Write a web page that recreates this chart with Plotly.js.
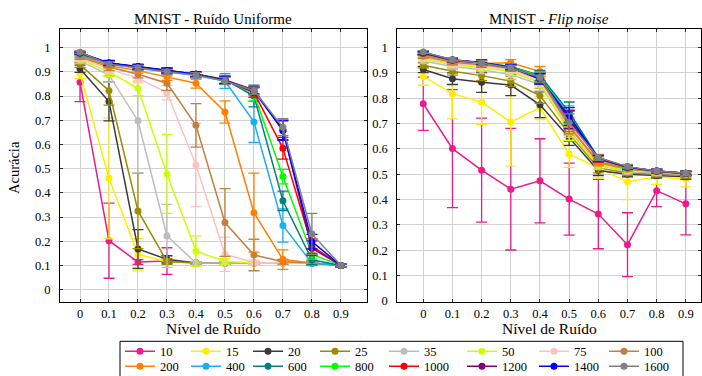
<!DOCTYPE html>
<html><head><meta charset="utf-8">
<script src="https://cdn.plot.ly/plotly-3.0.1.min.js"></script>
<style>html,body{margin:0;padding:0;background:#fff}#chart{width:702px;height:376px}</style>
</head><body><div id="chart"></div>
<script>
// ---------------- data ----------------
const noiseLevels = [0, 0.1, 0.2, 0.3, 0.4, 0.5, 0.6, 0.7, 0.8, 0.9];
const noiseTickLabels = ['0', '0.1', '0.2', '0.3', '0.4', '0.5', '0.6', '0.7', '0.8', '0.9'];
const accTicks = [0, 0.1, 0.2, 0.3, 0.4, 0.5, 0.6, 0.7, 0.8, 0.9, 1];
const accTickLabels = ['0', '0.1', '0.2', '0.3', '0.4', '0.5', '0.6', '0.7', '0.8', '0.9', '1'];
const sampleSizes = ['10', '15', '20', '25', '35', '50', '75', '100', '200', '400', '600', '800', '1000', '1200', '1400', '1600'];
const seriesColors = ['#ec1b8c', '#ffee00', '#3a3a3a', '#9c8c00', '#bdbdbd', '#ccff00', '#ffc0c0', '#bf8040',
                      '#ff8000', '#1ab0f0', '#008080', '#00ff00', '#ff0000', '#800080', '#0000ff', '#808080'];

// MNIST - uniform noise: mean accuracy per sample size (rows follow sampleSizes)
const uniformMeans = [
  [0.857, 0.202, 0.114, 0.118, 0.110, 0.110, 0.110, 0.110, 0.110, 0.100],
  [0.894, 0.460, 0.146, 0.115, 0.110, 0.110, 0.110, 0.110, 0.110, 0.100],
  [0.913, 0.777, 0.168, 0.125, 0.110, 0.110, 0.110, 0.110, 0.110, 0.100],
  [0.930, 0.822, 0.325, 0.116, 0.110, 0.110, 0.110, 0.110, 0.110, 0.100],
  [0.945, 0.887, 0.698, 0.222, 0.110, 0.110, 0.110, 0.110, 0.110, 0.100],
  [0.952, 0.900, 0.832, 0.478, 0.159, 0.116, 0.110, 0.110, 0.110, 0.100],
  [0.958, 0.910, 0.874, 0.814, 0.515, 0.146, 0.112, 0.110, 0.110, 0.100],
  [0.962, 0.920, 0.890, 0.853, 0.679, 0.277, 0.143, 0.115, 0.110, 0.100],
  [0.967, 0.925, 0.905, 0.880, 0.853, 0.734, 0.318, 0.124, 0.110, 0.100],
  [0.970, 0.932, 0.915, 0.900, 0.885, 0.862, 0.693, 0.265, 0.109, 0.100],
  [0.975, 0.935, 0.920, 0.905, 0.890, 0.868, 0.800, 0.367, 0.123, 0.100],
  [0.975, 0.935, 0.920, 0.905, 0.890, 0.868, 0.810, 0.467, 0.146, 0.100],
  [0.977, 0.935, 0.920, 0.905, 0.890, 0.866, 0.815, 0.584, 0.180, 0.100],
  [0.978, 0.936, 0.920, 0.905, 0.890, 0.866, 0.825, 0.660, 0.171, 0.100],
  [0.979, 0.937, 0.922, 0.905, 0.890, 0.864, 0.820, 0.657, 0.198, 0.100],
  [0.981, 0.931, 0.917, 0.900, 0.887, 0.862, 0.822, 0.671, 0.230, 0.100]
];
const uniformErrors = [
  [0.080, 0.155, 0.010, 0.055, 0.005, 0.005, 0.005, 0.005, 0.005, 0.005],
  [0.022, 0.250, 0.065, 0.010, 0.005, 0.005, 0.005, 0.005, 0.005, 0.005],
  [0.015, 0.080, 0.080, 0.015, 0.005, 0.005, 0.005, 0.005, 0.005, 0.005],
  [0.012, 0.060, 0.156, 0.012, 0.005, 0.005, 0.005, 0.005, 0.005, 0.005],
  [0.010, 0.030, 0.215, 0.130, 0.005, 0.005, 0.005, 0.005, 0.005, 0.005],
  [0.010, 0.020, 0.030, 0.163, 0.063, 0.012, 0.005, 0.005, 0.005, 0.005],
  [0.010, 0.015, 0.020, 0.030, 0.172, 0.071, 0.010, 0.005, 0.005, 0.005],
  [0.010, 0.015, 0.015, 0.030, 0.090, 0.140, 0.065, 0.010, 0.005, 0.005],
  [0.008, 0.010, 0.010, 0.015, 0.020, 0.046, 0.163, 0.040, 0.010, 0.005],
  [0.005, 0.010, 0.010, 0.010, 0.015, 0.030, 0.085, 0.069, 0.010, 0.005],
  [0.005, 0.010, 0.010, 0.010, 0.010, 0.015, 0.045, 0.040, 0.020, 0.005],
  [0.005, 0.010, 0.010, 0.010, 0.010, 0.015, 0.030, 0.030, 0.020, 0.005],
  [0.005, 0.010, 0.010, 0.010, 0.010, 0.015, 0.020, 0.045, 0.030, 0.005],
  [0.005, 0.010, 0.010, 0.010, 0.010, 0.015, 0.015, 0.040, 0.030, 0.005],
  [0.005, 0.010, 0.010, 0.010, 0.010, 0.015, 0.015, 0.040, 0.030, 0.005],
  [0.005, 0.010, 0.010, 0.010, 0.010, 0.015, 0.015, 0.035, 0.085, 0.005]
];

// MNIST - flip noise: mean accuracy per sample size
const flipMeans = [
  [0.778, 0.601, 0.516, 0.441, 0.474, 0.402, 0.343, 0.222, 0.435, 0.383],
  [0.886, 0.818, 0.784, 0.706, 0.762, 0.579, 0.525, 0.470, 0.490, 0.480],
  [0.913, 0.877, 0.863, 0.852, 0.774, 0.644, 0.515, 0.500, 0.495, 0.490],
  [0.930, 0.906, 0.889, 0.867, 0.810, 0.660, 0.525, 0.505, 0.500, 0.495],
  [0.947, 0.925, 0.912, 0.893, 0.854, 0.675, 0.535, 0.510, 0.505, 0.500],
  [0.955, 0.932, 0.920, 0.905, 0.862, 0.664, 0.535, 0.515, 0.510, 0.500],
  [0.960, 0.937, 0.927, 0.912, 0.870, 0.685, 0.545, 0.520, 0.510, 0.502],
  [0.965, 0.942, 0.932, 0.918, 0.876, 0.690, 0.550, 0.522, 0.512, 0.503],
  [0.970, 0.946, 0.937, 0.940, 0.905, 0.690, 0.545, 0.520, 0.510, 0.500],
  [0.975, 0.948, 0.940, 0.925, 0.885, 0.735, 0.560, 0.525, 0.512, 0.503],
  [0.977, 0.950, 0.940, 0.925, 0.890, 0.745, 0.565, 0.528, 0.513, 0.503],
  [0.977, 0.950, 0.940, 0.924, 0.885, 0.720, 0.560, 0.525, 0.512, 0.503],
  [0.978, 0.950, 0.940, 0.922, 0.878, 0.715, 0.560, 0.527, 0.512, 0.503],
  [0.978, 0.951, 0.940, 0.920, 0.880, 0.715, 0.562, 0.528, 0.513, 0.504],
  [0.980, 0.952, 0.941, 0.922, 0.876, 0.728, 0.564, 0.528, 0.513, 0.504],
  [0.982, 0.952, 0.939, 0.919, 0.882, 0.703, 0.566, 0.530, 0.513, 0.504]
];
const flipErrors = [
  [0.105, 0.233, 0.205, 0.240, 0.166, 0.142, 0.137, 0.126, 0.063, 0.122],
  [0.035, 0.100, 0.087, 0.173, 0.046, 0.052, 0.040, 0.070, 0.030, 0.030],
  [0.012, 0.023, 0.040, 0.042, 0.051, 0.030, 0.020, 0.010, 0.010, 0.010],
  [0.010, 0.015, 0.020, 0.020, 0.030, 0.030, 0.020, 0.010, 0.010, 0.010],
  [0.010, 0.012, 0.015, 0.020, 0.025, 0.030, 0.015, 0.010, 0.010, 0.008],
  [0.010, 0.010, 0.012, 0.015, 0.020, 0.030, 0.015, 0.010, 0.008, 0.008],
  [0.008, 0.010, 0.010, 0.015, 0.020, 0.030, 0.015, 0.010, 0.008, 0.008],
  [0.008, 0.010, 0.010, 0.012, 0.020, 0.030, 0.012, 0.010, 0.008, 0.008],
  [0.008, 0.008, 0.010, 0.012, 0.020, 0.035, 0.012, 0.010, 0.008, 0.008],
  [0.006, 0.008, 0.010, 0.010, 0.020, 0.035, 0.012, 0.008, 0.008, 0.008],
  [0.006, 0.008, 0.010, 0.010, 0.020, 0.040, 0.012, 0.008, 0.008, 0.008],
  [0.006, 0.008, 0.010, 0.010, 0.020, 0.035, 0.012, 0.008, 0.008, 0.008],
  [0.006, 0.008, 0.010, 0.010, 0.020, 0.035, 0.012, 0.008, 0.008, 0.008],
  [0.006, 0.008, 0.010, 0.010, 0.020, 0.035, 0.012, 0.008, 0.008, 0.008],
  [0.006, 0.008, 0.010, 0.010, 0.020, 0.035, 0.012, 0.008, 0.008, 0.008],
  [0.006, 0.008, 0.010, 0.010, 0.020, 0.035, 0.012, 0.008, 0.008, 0.008]
];

// ---------------- styling ----------------
const FONT = "'Liberation Serif', 'Times New Roman', serif";
const W = 702, H = 376;
const legendColumnWidths = [21, 17, 22, 24, 33, 27, 25, 30];

const traces = [];
function addSeries(means, errors, xa, ya, withLegend) {
  sampleSizes.forEach((name, i) => {
    traces.push({
      type: 'scatter', mode: 'lines+markers',
      x: noiseLevels, y: means[i], name: name,
      xaxis: xa, yaxis: ya,
      line: {color: seriesColors[i], width: 1.5},
      marker: {color: seriesColors[i], size: 7},
      error_y: {type: 'data', array: errors[i], visible: true, color: seriesColors[i], thickness: 1.3, width: 5.5},
      showlegend: withLegend,
      legend: i < 8 ? 'legend' : 'legend2',
      legendwidth: legendColumnWidths[i % 8],
      cliponaxis: false
    });
  });
}
addSeries(uniformMeans, uniformErrors, 'x', 'y', true);
addSeries(flipMeans, flipErrors, 'x2', 'y2', false);

const axisBase = {
  showline: true, linecolor: '#000', linewidth: 1, mirror: 'allticks',
  ticks: 'inside', ticklen: 3, tickcolor: '#000', tickwidth: 0.8,
  showgrid: true, gridcolor: '#d2d2d2', gridwidth: 1, zeroline: false,
  tickfont: {family: FONT, size: 12.5, color: '#000'}, fixedrange: true
};
const yDomain = [(H - 301.7) / H, (H - 29) / H];
const legendBase = {
  orientation: 'h', xanchor: 'left', yanchor: 'top', x: 120 / W,
  bgcolor: 'rgba(0,0,0,0)', borderwidth: 0, itemwidth: 30,
  font: {family: FONT, size: 12.5, color: '#000'}, traceorder: 'normal'
};

const layout = {
  width: W, height: H,
  margin: {l: 0, r: 0, t: 0, b: 0, pad: 0, autoexpand: false},
  paper_bgcolor: '#fff', plot_bgcolor: '#fff',
  font: {family: FONT, color: '#000'},
  xaxis: Object.assign({}, axisBase, {domain: [60 / W, 366.7 / W], range: [-0.069, 0.989], tickvals: noiseLevels, ticktext: noiseTickLabels, anchor: 'y'}),
  yaxis: Object.assign({}, axisBase, {domain: yDomain, range: [-0.05, 1.077], tickvals: accTicks, ticktext: accTickLabels, anchor: 'x', ticklabelstandoff: 6}),
  xaxis2: Object.assign({}, axisBase, {domain: [397.3 / W, 701 / W], range: [-0.089, 0.952], tickvals: noiseLevels, ticktext: noiseTickLabels, anchor: 'y2'}),
  yaxis2: Object.assign({}, axisBase, {domain: yDomain, range: [-0.003, 1.073], tickvals: accTicks, ticktext: accTickLabels, anchor: 'x2', ticklabelstandoff: 6}),
  legend: Object.assign({}, legendBase, {y: (H - 336.5) / H}),
  legend2: Object.assign({}, legendBase, {y: (H - 351.5) / H}),
  shapes: [{type: 'rect', xref: 'paper', yref: 'paper', x0: 120 / W, x1: 683 / W, y0: -0.02, y1: (H - 341.3) / H,
            line: {color: '#000', width: 1}, fillcolor: 'rgba(0,0,0,0)'}],
  annotations: [
    {text: 'MNIST - Ruído Uniforme', xref: 'paper', yref: 'paper', x: 213.3 / W, y: (H - 19) / H, showarrow: false, xanchor: 'center', yanchor: 'middle', font: {family: FONT, size: 15}},
    {text: 'MNIST - <i>Flip noise</i>', xref: 'paper', yref: 'paper', x: 549.2 / W, y: (H - 19) / H, showarrow: false, xanchor: 'center', yanchor: 'middle', font: {family: FONT, size: 15}},
    {text: 'Nível de Ruído', xref: 'paper', yref: 'paper', x: 213.3 / W, y: (H - 328) / H, showarrow: false, xanchor: 'center', yanchor: 'middle', font: {family: FONT, size: 15.5}},
    {text: 'Nível de Ruído', xref: 'paper', yref: 'paper', x: 549.2 / W, y: (H - 328) / H, showarrow: false, xanchor: 'center', yanchor: 'middle', font: {family: FONT, size: 15.5}},
    {text: 'Acurácia', xref: 'paper', yref: 'paper', x: 14 / W, y: (H - 168) / H, showarrow: false, textangle: -90, xanchor: 'center', yanchor: 'middle', font: {family: FONT, size: 14.5}}
  ],
  showlegend: true
};

Plotly.newPlot('chart', traces, layout, {staticPlot: true, displayModeBar: false});
</script>
</body></html>
